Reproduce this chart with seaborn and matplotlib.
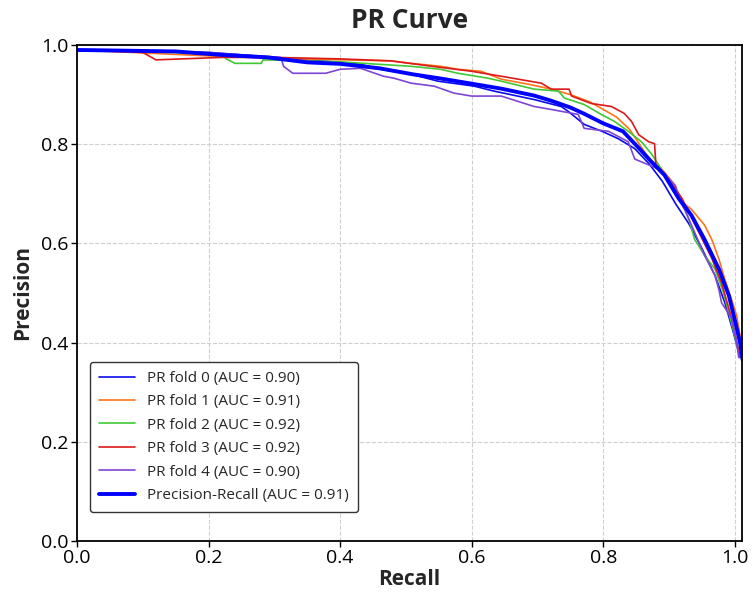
import matplotlib
matplotlib.use("Agg")
import matplotlib.pyplot as plt
import seaborn as sns
import pandas as pd

# PR curve points (recall, precision)
fold0_recall = [0, 0.2, 0.3, 0.40, 0.431, 0.462, 0.508, 0.549, 0.604, 0.634, 0.695, 0.736, 0.747,
                0.771, 0.80, 0.823, 0.848, 0.87, 0.89, 0.91, 0.93, 0.95, 0.97, 0.985, 0.998, 1.008]
fold0_precision = [0.99, 0.985, 0.975, 0.965, 0.961, 0.951, 0.941, 0.927, 0.917, 0.907, 0.89, 0.876, 0.866,
                   0.84, 0.825, 0.811, 0.791, 0.76, 0.725, 0.68, 0.64, 0.59, 0.535, 0.48, 0.42, 0.37]

fold1_recall = [0, 0.2, 0.34, 0.477, 0.508, 0.553, 0.579, 0.614, 0.634, 0.645, 0.686, 0.721, 0.75,
                0.78, 0.80, 0.82, 0.84, 0.855, 0.87, 0.889, 0.909, 0.919, 0.934, 0.954, 0.965, 0.976,
                0.985, 0.995, 1.003, 1.008, 1.011]
fold1_precision = [0.99, 0.978, 0.972, 0.968, 0.963, 0.957, 0.951, 0.947, 0.937, 0.931, 0.921, 0.911, 0.90,
                   0.885, 0.87, 0.855, 0.83, 0.80, 0.77, 0.75, 0.718, 0.684, 0.669, 0.637, 0.608, 0.568,
                   0.527, 0.487, 0.454, 0.414, 0.373]

fold2_recall = [0, 0.15, 0.22, 0.227, 0.24, 0.28, 0.283, 0.35, 0.40, 0.508, 0.553, 0.579, 0.625, 0.645,
                0.695, 0.732, 0.741, 0.771, 0.797, 0.817, 0.838, 0.858, 0.873, 0.884, 0.90, 0.915,
                0.93, 0.939, 0.954, 0.97, 0.983, 0.995, 1.008]
fold2_precision = [0.99, 0.985, 0.98, 0.972, 0.963, 0.963, 0.97, 0.968, 0.966, 0.957, 0.951, 0.943, 0.933, 0.927,
                   0.911, 0.907, 0.893, 0.88, 0.86, 0.846, 0.826, 0.805, 0.781, 0.759, 0.724, 0.698,
                   0.649, 0.608, 0.576, 0.548, 0.50, 0.44, 0.37]

fold3_recall = [0, 0.10, 0.12, 0.22, 0.30, 0.40, 0.477, 0.54, 0.60, 0.645, 0.706, 0.721, 0.748, 0.752,
                0.782, 0.8125, 0.832, 0.843, 0.854, 0.869, 0.878, 0.88, 0.889, 0.905, 0.92, 0.935,
                0.95, 0.965, 0.98, 0.995, 1.008]
fold3_precision = [0.99, 0.985, 0.97, 0.975, 0.975, 0.972, 0.968, 0.957, 0.947, 0.937, 0.923, 0.911, 0.911, 0.897,
                   0.882, 0.876, 0.862, 0.846, 0.819, 0.805, 0.801, 0.76, 0.745, 0.72, 0.69, 0.65,
                   0.61, 0.57, 0.52, 0.45, 0.37]

fold4_recall = [0, 0.2, 0.31, 0.314, 0.328, 0.378, 0.40, 0.431, 0.466, 0.482, 0.508, 0.543, 0.573, 0.60,
                0.645, 0.695, 0.721, 0.762, 0.771, 0.808, 0.838, 0.848, 0.884, 0.90, 0.91, 0.915,
                0.925, 0.954, 0.97, 0.976, 0.98, 0.995, 1.003, 1.006]
fold4_precision = [0.99, 0.985, 0.975, 0.957, 0.943, 0.943, 0.951, 0.953, 0.937, 0.933, 0.923, 0.917, 0.903, 0.897,
                   0.897, 0.876, 0.87, 0.86, 0.832, 0.826, 0.805, 0.77, 0.75, 0.73, 0.715, 0.69,
                   0.665, 0.576, 0.535, 0.506, 0.48, 0.45, 0.40, 0.37]

mean_recall = [0, 0.15, 0.22, 0.29, 0.35, 0.40, 0.46, 0.51, 0.55, 0.60, 0.645, 0.695, 0.72, 0.75, 0.77,
               0.80, 0.83, 0.855, 0.873, 0.893, 0.915, 0.934, 0.954, 0.976, 0.991, 1.0, 1.008, 1.012]
mean_precision = [0.99, 0.987, 0.98, 0.975, 0.965, 0.962, 0.953, 0.941, 0.933, 0.922, 0.912, 0.898, 0.888,
                  0.874, 0.862, 0.842, 0.826, 0.791, 0.765, 0.738, 0.69, 0.657, 0.608, 0.548, 0.495,
                  0.446, 0.40, 0.365]

fold_labels = ["PR fold 0 (AUC = 0.90)", "PR fold 1 (AUC = 0.91)", "PR fold 2 (AUC = 0.92)",
               "PR fold 3 (AUC = 0.92)", "PR fold 4 (AUC = 0.90)"]
mean_label = "Precision-Recall (AUC = 0.91)"
fold_colors = ["#0a0aee", "#ff7418", "#40c835", "#dc1a1a", "#7f45d6"]

folds = [(fold0_recall, fold0_precision), (fold1_recall, fold1_precision),
         (fold2_recall, fold2_precision), (fold3_recall, fold3_precision),
         (fold4_recall, fold4_precision)]

sns.set_theme(style="whitegrid", rc={
    "grid.linestyle": "--",
    "grid.color": "#cfcfcf",
    "grid.linewidth": 0.8,
    "axes.edgecolor": "black",
    "axes.linewidth": 1.3,
    "xtick.bottom": True,
    "ytick.left": True,
    "xtick.color": "black",
    "ytick.color": "black",
})
plt.rcParams["font.family"] = ["Open Sans", "DejaVu Sans"]

fig = plt.figure(figsize=(7.53, 5.96), dpi=100)
ax = fig.add_axes([0.1023, 0.0923, 0.8831, 0.8322])

for (rec, prec), lab, col in zip(folds, fold_labels, fold_colors):
    df = pd.DataFrame({"Recall": rec, "Precision": prec})
    sns.lineplot(data=df, x="Recall", y="Precision", sort=False, estimator=None,
                 color=col, linewidth=1.2, label=lab, ax=ax)

mean_df = pd.DataFrame({"Recall": mean_recall, "Precision": mean_precision})
sns.lineplot(data=mean_df, x="Recall", y="Precision", sort=False, estimator=None,
             color="#0000ff", linewidth=2.8, label=mean_label, ax=ax)

ax.set_xlim(0, 1.011)
ax.set_ylim(0, 1.0)
ax.set_xticks([0.0, 0.2, 0.4, 0.6, 0.8, 1.0])
ax.set_yticks([0.0, 0.2, 0.4, 0.6, 0.8, 1.0])
ax.tick_params(axis="both", labelsize=14, length=4, width=1, pad=2)
ax.set_xlabel("Recall", fontsize=15, fontweight="bold", labelpad=1)
ax.set_ylabel("Precision", fontsize=15, fontweight="bold", labelpad=6)
ax.set_title("PR Curve", fontsize=19, fontweight="bold", pad=12)

leg = ax.legend(loc="lower left", bbox_to_anchor=(0.02, 0.058), borderaxespad=0,
                fontsize=11, frameon=True, fancybox=True, framealpha=1,
                edgecolor="#333333", handlelength=2.3, labelspacing=0.55,
                borderpad=0.6)
leg.get_frame().set_linewidth(1.0)

fig.savefig("out.png", dpi=100)
